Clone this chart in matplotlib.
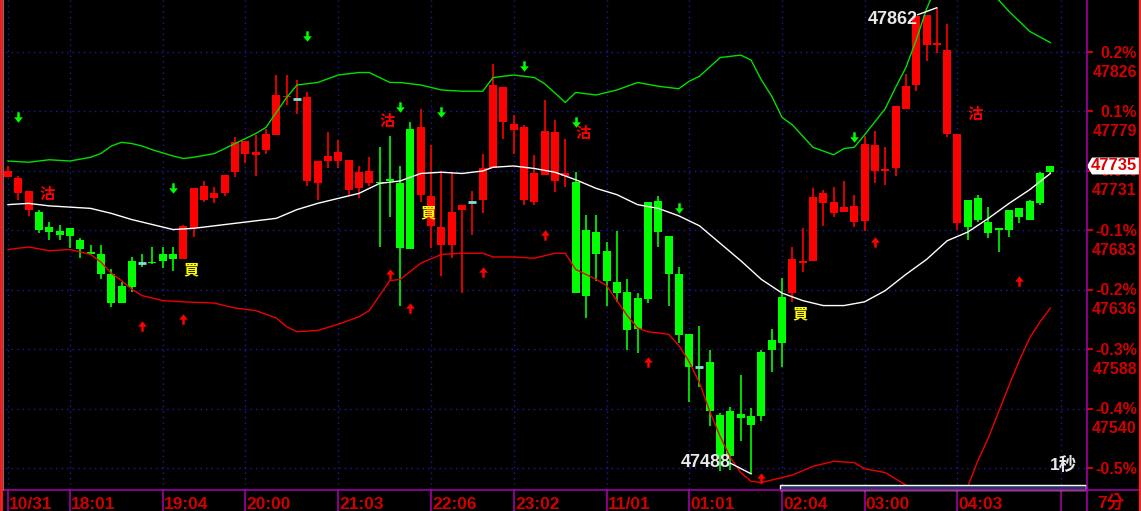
import matplotlib
matplotlib.use("Agg")
import matplotlib.pyplot as plt
import matplotlib.transforms as mtransforms
from matplotlib.path import Path
from matplotlib.patches import Polygon, Rectangle
from matplotlib.lines import Line2D
import numpy as np

plt.rcParams['font.family'] = ['Liberation Sans', 'Noto Sans CJK TC', 'DejaVu Sans']

# 7-minute bars, 10/31 evening session into 11/01
opens = [47726, 47713, 47700, 47698, 47686, 47683, 47685, 47676, 47666, 47664,
         47648, 47639, 47659, 47657, 47657, 47664, 47664, 47660, 47685, 47708,
         47709, 47713, 47730, 47745, 47744, 47748, 47760, 47790, 47789, 47723,
         47721, 47739, 47739, 47716, 47717, 47721, 47722, 47724, 47721, 47765,
         47712, 47687, 47672, 47672, 47700, 47706, 47708, 47733, 47770, 47764,
         47708, 47706, 47728, 47723, 47727, 47722, 47684, 47682, 47667, 47642,
         47634, 47629, 47706, 47707, 47679, 47648, 47600, 47574, 47578, 47535,
         47538, 47536, 47534, 47586, 47595, 47630, 47633, 47657, 47659, 47705,
         47697, 47698, 47690, 47691, 47731, 47731, 47733, 47781, 47800, 47832,
         47832, 47761, 47689, 47708, 47709, 47690, 47685, 47700, 47701, 47707,
         47729, 47730]
highs = [47735, 47727, 47715, 47700, 47690, 47688, 47685, 47677, 47672, 47672,
         47652, 47642, 47662, 47664, 47670, 47670, 47670, 47688, 47717, 47723,
         47718, 47728, 47758, 47755, 47760, 47765, 47808, 47808, 47804, 47794,
         47739, 47762, 47756, 47740, 47735, 47742, 47750, 47759, 47735, 47770,
         47781, 47752, 47731, 47730, 47704, 47715, 47745, 47817, 47798, 47776,
         47768, 47744, 47788, 47772, 47757, 47730, 47696, 47696, 47674, 47683,
         47644, 47633, 47706, 47711, 47679, 47654, 47600, 47607, 47587, 47537,
         47542, 47567, 47541, 47587, 47604, 47645, 47670, 47685, 47717, 47716,
         47718, 47723, 47712, 47759, 47763, 47750, 47783, 47809, 47855, 47856,
         47862, 47849, 47761, 47708, 47712, 47702, 47685, 47700, 47701, 47708,
         47730, 47735]
lows = [47726, 47708, 47695, 47681, 47676, 47676, 47669, 47661, 47664, 47644,
        47622, 47625, 47634, 47654, 47656, 47653, 47651, 47660, 47678, 47706,
        47705, 47711, 47726, 47737, 47727, 47745, 47760, 47784, 47777, 47719,
        47708, 47733, 47733, 47711, 47709, 47719, 47670, 47694, 47623, 47668,
        47706, 47669, 47647, 47661, 47633, 47680, 47697, 47733, 47757, 47745,
        47704, 47704, 47728, 47714, 47718, 47633, 47613, 47643, 47623, 47626,
        47587, 47585, 47625, 47670, 47623, 47593, 47546, 47558, 47526, 47490,
        47491, 47514, 47488, 47530, 47570, 47574, 47626, 47650, 47659, 47687,
        47694, 47698, 47686, 47683, 47721, 47720, 47727, 47781, 47795, 47819,
        47826, 47758, 47684, 47676, 47690, 47677, 47666, 47678, 47689, 47692,
        47704, 47729]
closes = [47731, 47725, 47715, 47684, 47682, 47680, 47679, 47668, 47664, 47648,
          47625, 47625, 47638, 47657, 47658, 47659, 47660, 47687, 47717, 47719,
          47713, 47728, 47754, 47755, 47746, 47761, 47792, 47791, 47789, 47790,
          47739, 47743, 47746, 47740, 47730, 47731, 47721, 47723, 47669, 47668,
          47766, 47711, 47686, 47698, 47704, 47706, 47733, 47800, 47798, 47769,
          47766, 47729, 47763, 47762, 47729, 47633, 47631, 47664, 47643, 47633,
          47603, 47604, 47628, 47682, 47648, 47599, 47574, 47574, 47538, 47502,
          47502, 47533, 47527, 47534, 47587, 47593, 47660, 47659, 47710, 47713,
          47706, 47702, 47703, 47753, 47752, 47732, 47783, 47799, 47855, 47856,
          47833, 47828, 47761, 47686, 47692, 47681, 47684, 47684, 47694, 47692,
          47705, 47735]

# buy / sell signals (candle colour follows the last signal)
sig_idx = [3, 17, 36, 40, 55, 76, 93]
sig_text = ['沽', '買', '沽', '買', '沽', '買', '沽']
sig_price = [47712, 47651, 47770, 47697, 47761, 47616, 47776]

# small arrows
dn_idx = [1, 16, 29, 38, 42, 50, 55, 65, 82]
dn_price = [47774, 47717, 47839, 47782, 47778, 47815, 47770, 47701, 47758]
up_idx = [13, 17, 37, 39, 46, 52, 62, 73, 84, 98]
up_price = [47607, 47612, 47648, 47621, 47650, 47680, 47578, 47485, 47674, 47643]

# bollinger lines
mid_idx = [0, 2, 4, 6, 8, 10, 12, 14, 16, 18, 20, 22, 24, 26, 28, 30, 32, 34, 36, 38,
           40, 42, 44, 46, 47, 49, 51, 53, 55, 57, 59, 61, 63, 65, 67, 69, 71, 73, 75,
           77, 79, 81, 83, 85, 87, 89, 91, 93, 95, 97, 99, 101]
mid_val = [47704, 47705, 47703, 47702, 47701, 47697, 47692, 47688, 47684, 47685,
           47687, 47689, 47691, 47693, 47700, 47705, 47709, 47713, 47721, 47723,
           47729, 47730, 47729, 47731, 47734, 47735, 47733, 47730, 47724, 47717,
           47712, 47704, 47701, 47695, 47687, 47673, 47659, 47644, 47633, 47627,
           47623, 47623, 47626, 47635, 47648, 47660, 47675, 47682, 47693, 47705,
           47716, 47729]
top_idx = [0, 2, 4, 6, 8, 9, 10, 11, 12, 13, 14, 16, 17, 18, 20, 22, 24, 25, 26, 27,
           28, 30, 32, 34, 35, 36, 37, 38, 40, 42, 44, 46, 47, 49, 51, 52, 54, 55, 57,
           59, 61, 63, 65, 66, 67, 69, 71, 72, 73, 74, 75, 76, 78, 80, 81, 82, 83, 85,
           86, 87, 88, 89, 90, 92, 94, 96, 97, 98, 99, 101]
top_val = [47739, 47738, 47740, 47739, 47742, 47745, 47751, 47754, 47753, 47751,
           47748, 47743, 47741, 47742, 47745, 47753, 47761, 47766, 47778, 47790,
           47800, 47802, 47808, 47810, 47810, 47806, 47802, 47802, 47800, 47796,
           47795, 47795, 47806, 47808, 47806, 47801, 47786, 47794, 47792, 47796,
           47802, 47799, 47797, 47803, 47807, 47822, 47824, 47820, 47804, 47791,
           47774, 47768, 47750, 47744, 47749, 47750, 47760, 47781, 47798, 47814,
           47836, 47861, 47880, 47892, 47884, 47868, 47859, 47851, 47843, 47834]
bot_idx = [0, 2, 4, 6, 8, 9, 10, 11, 12, 13, 15, 17, 20, 22, 24, 26, 27, 28, 30, 32,
           34, 35, 36, 37, 38, 40, 42, 44, 46, 47, 49, 51, 53, 54, 55, 57, 58, 60, 61,
           62, 64, 65, 66, 67, 68, 69, 70, 71, 72, 73, 74, 76, 78, 80, 82, 83, 85, 87,
           89, 92, 93, 94, 95, 96, 97, 98, 99, 100, 101]
bot_val = [47668, 47670, 47667, 47668, 47664, 47658, 47649, 47643, 47636, 47631,
           47627, 47626, 47625, 47621, 47619, 47613, 47606, 47602, 47603, 47608,
           47614, 47619, 47631, 47643, 47644, 47657, 47664, 47665, 47665, 47662,
           47662, 47661, 47665, 47665, 47652, 47644, 47639, 47615, 47605, 47602,
           47600, 47591, 47578, 47561, 47538, 47518, 47501, 47489, 47482, 47481,
           47483, 47487, 47494, 47498, 47497, 47492, 47489, 47479, 47467, 47463,
           47478, 47499, 47517, 47538, 47559, 47579, 47597, 47610, 47621]

grid_idx = [0, 6, 15, 23, 32, 41, 49, 58, 66, 75, 83, 92, 102]
grid_lbl = ['10/31', '18:01', '19:04', '20:00', '21:03', '22:06', '23:02',
            '11/01', '01:01', '02:04', '03:00', '04:03', '']

base = 47731
pct_steps = [-5, -4, -3, -2, -1, 0, 1, 2]

RED = '#ff0000'
GREEN = '#00ff00'
DOJI = '#80e0e0'
GRID = '#1c1ca8'
PURPLE = '#a000a0'
LBL = '#d00000'

W, H = 1141, 511
fig = plt.figure(figsize=(W / 100, H / 100), dpi=100, facecolor='black')
ax = fig.add_axes([0, 21 / H, 1087 / W, 490 / H])
ax.set_facecolor('black')
ax.set_xlim(-0.775, 104.55)
ax.set_ylim(47475.0, 47868.2)
for s in ax.spines.values():
    s.set_visible(False)
ax.set_xticks([])
ax.set_yticks([])

# dotted grid
for k in pct_steps:
    ax.axhline(base * (1 + k / 1000), color=GRID, lw=1, ls=(0, (1, 3)), zorder=0)
for gi in grid_idx:
    ax.axvline(gi, color=GRID, lw=1, ls=(0, (1, 3)), zorder=0)

# candle colour from signal state
state = ['買'] * len(opens)
cur = '買'
for i in range(len(opens)):
    if i in sig_idx:
        cur = sig_text[sig_idx.index(i)]
    state[i] = cur

bw = 0.775
for i in range(len(opens)):
    o, h, l, c = opens[i], highs[i], lows[i], closes[i]
    col = RED if state[i] == '買' else GREEN
    ax.vlines(i, l, h, color=col, lw=1.2, zorder=3)
    if o == c:
        ax.hlines(o, i - bw / 2, i + bw / 2, color=DOJI, lw=2, zorder=3)
    else:
        lo = min(o, c)
        ht = max(abs(c - o), 1.3)
        ax.add_patch(Rectangle((i - bw / 2, lo), bw, ht, facecolor=col,
                               edgecolor='none', zorder=3))

# bands
ax.plot(mid_idx, mid_val, color='white', lw=1, zorder=4)
ax.plot(top_idx, top_val, color='#00e000', lw=1, zorder=4)
ax.plot(bot_idx, bot_val, color='#ee0000', lw=1, zorder=4)

# arrows
dn_path = Path([(-0.12, 0.5), (0.12, 0.5), (0.12, 0.02), (0.42, 0.02), (0, -0.5),
                (-0.42, 0.02), (-0.12, 0.02), (-0.12, 0.5)])
up_path = Path([(x, -y) for x, y in dn_path.vertices])
ax.plot(dn_idx, dn_price, ls='none', marker=dn_path, ms=7.5, color=GREEN,
        mec='none', zorder=5)
ax.plot(up_idx, up_price, ls='none', marker=up_path, ms=7.5, color=RED,
        mec='none', zorder=5)

# signal texts
for i, t, p in zip(sig_idx, sig_text, sig_price):
    ax.text(i + 0.75, p, t, color=RED if t == '沽' else '#ffff00', fontsize=11,
            fontweight='bold', ha='center', va='center', zorder=6)

# highest / lowest labels
hi = int(np.argmax(highs))
lo_i = int(np.argmin(lows))
ax.text(hi - 1.85, highs[hi] - 9.5, f'{highs[hi]}', color='#e8e8e8', fontsize=13,
        fontweight='bold', ha='right', va='center', zorder=6)
ax.plot([hi - 1.85, hi], [highs[hi] - 5.6, highs[hi]], color='white', lw=1, zorder=6)
ax.text(lo_i - 2.0, lows[lo_i] + 9.0, f'{lows[lo_i]}', color='#e8e8e8', fontsize=13,
        fontweight='bold', ha='right', va='center', zorder=6)
ax.plot([lo_i - 2.0, lo_i], [lows[lo_i] + 8.5, lows[lo_i]], color='white', lw=1, zorder=6)

# bottom time axis
bt = mtransforms.blended_transform_factory(ax.transData, ax.transAxes)
for gi, lb in zip(grid_idx, grid_lbl):
    ax.plot([gi, gi], [0, -21 / 490], color=PURPLE, lw=1.2, transform=bt, clip_on=False)
    ax.text(gi + 0.12, -14 / 490, lb, color=LBL, fontsize=12.5, fontweight='bold',
            ha='left', va='center', transform=bt, clip_on=False)

# right price axis
rt = mtransforms.blended_transform_factory(fig.transFigure, ax.transData)
t1 = mtransforms.offset_copy(rt, fig=fig, y=-1, units='dots')
t2 = mtransforms.offset_copy(rt, fig=fig, y=-20, units='dots')
for k in pct_steps:
    gp = base * (1 + k / 1000)
    ax.plot([1087 / W, 1092 / W], [gp, gp], color=LBL, lw=1.5, transform=rt, clip_on=False)
    ax.text(1137 / W, gp, f'{k / 10:.1f}%', color=LBL, fontsize=11.5, fontweight='bold',
            ha='right', va='center', transform=t1, clip_on=False)
    if k > -5:
        ax.text(1137 / W, gp, f'{gp:.0f}', color=LBL, fontsize=11.5, fontweight='bold',
                ha='right', va='center', transform=t2, clip_on=False)

# last price box
last = closes[-1]
dh = 6.8
box = Polygon([(1087 / W, last), (1092 / W, last + dh), (1139 / W, last + dh),
               (1139 / W, last - dh), (1092 / W, last - dh)], closed=True,
              facecolor='white', edgecolor='none', transform=rt, clip_on=False, zorder=10)
ax.add_patch(box)
ax.text(1137 / W, last, f'{last}', color='#e00000', fontsize=12, fontweight='bold',
        ha='right', va='center', transform=rt, clip_on=False, zorder=11)

# frame lines
fig.add_artist(Line2D([1087 / W, 1087 / W], [0, 1], color=PURPLE, lw=1.2))
fig.add_artist(Line2D([0, 1], [21 / H, 21 / H], color=PURPLE, lw=1.2))
fig.add_artist(Line2D([1.2 / W, 1.2 / W], [0, 1], color='#ff2020', lw=2))
fig.add_artist(Line2D([3 / W, 3 / W], [21 / H, 1], color='#707070', lw=0.8))
fig.add_artist(Line2D([1140 / W, 1140 / W], [0, 1], color='#ff2020', lw=1.5))

# scroll bar and captions
fig.add_artist(Rectangle((780 / W, 21 / H), 306 / W, 5 / H, facecolor='#26385e',
                         edgecolor='white', lw=1, transform=fig.transFigure))
fig.text(1063 / W, 1 - 464 / H, '1秒', color='#e8e8e8', fontsize=12.5,
         fontweight='bold', ha='center', va='center')
fig.text(1111 / W, 1 - 502 / H, '7分', color=LBL, fontsize=12.5,
         fontweight='bold', ha='center', va='center')

fig.savefig('out.png', dpi=100, facecolor='black')
